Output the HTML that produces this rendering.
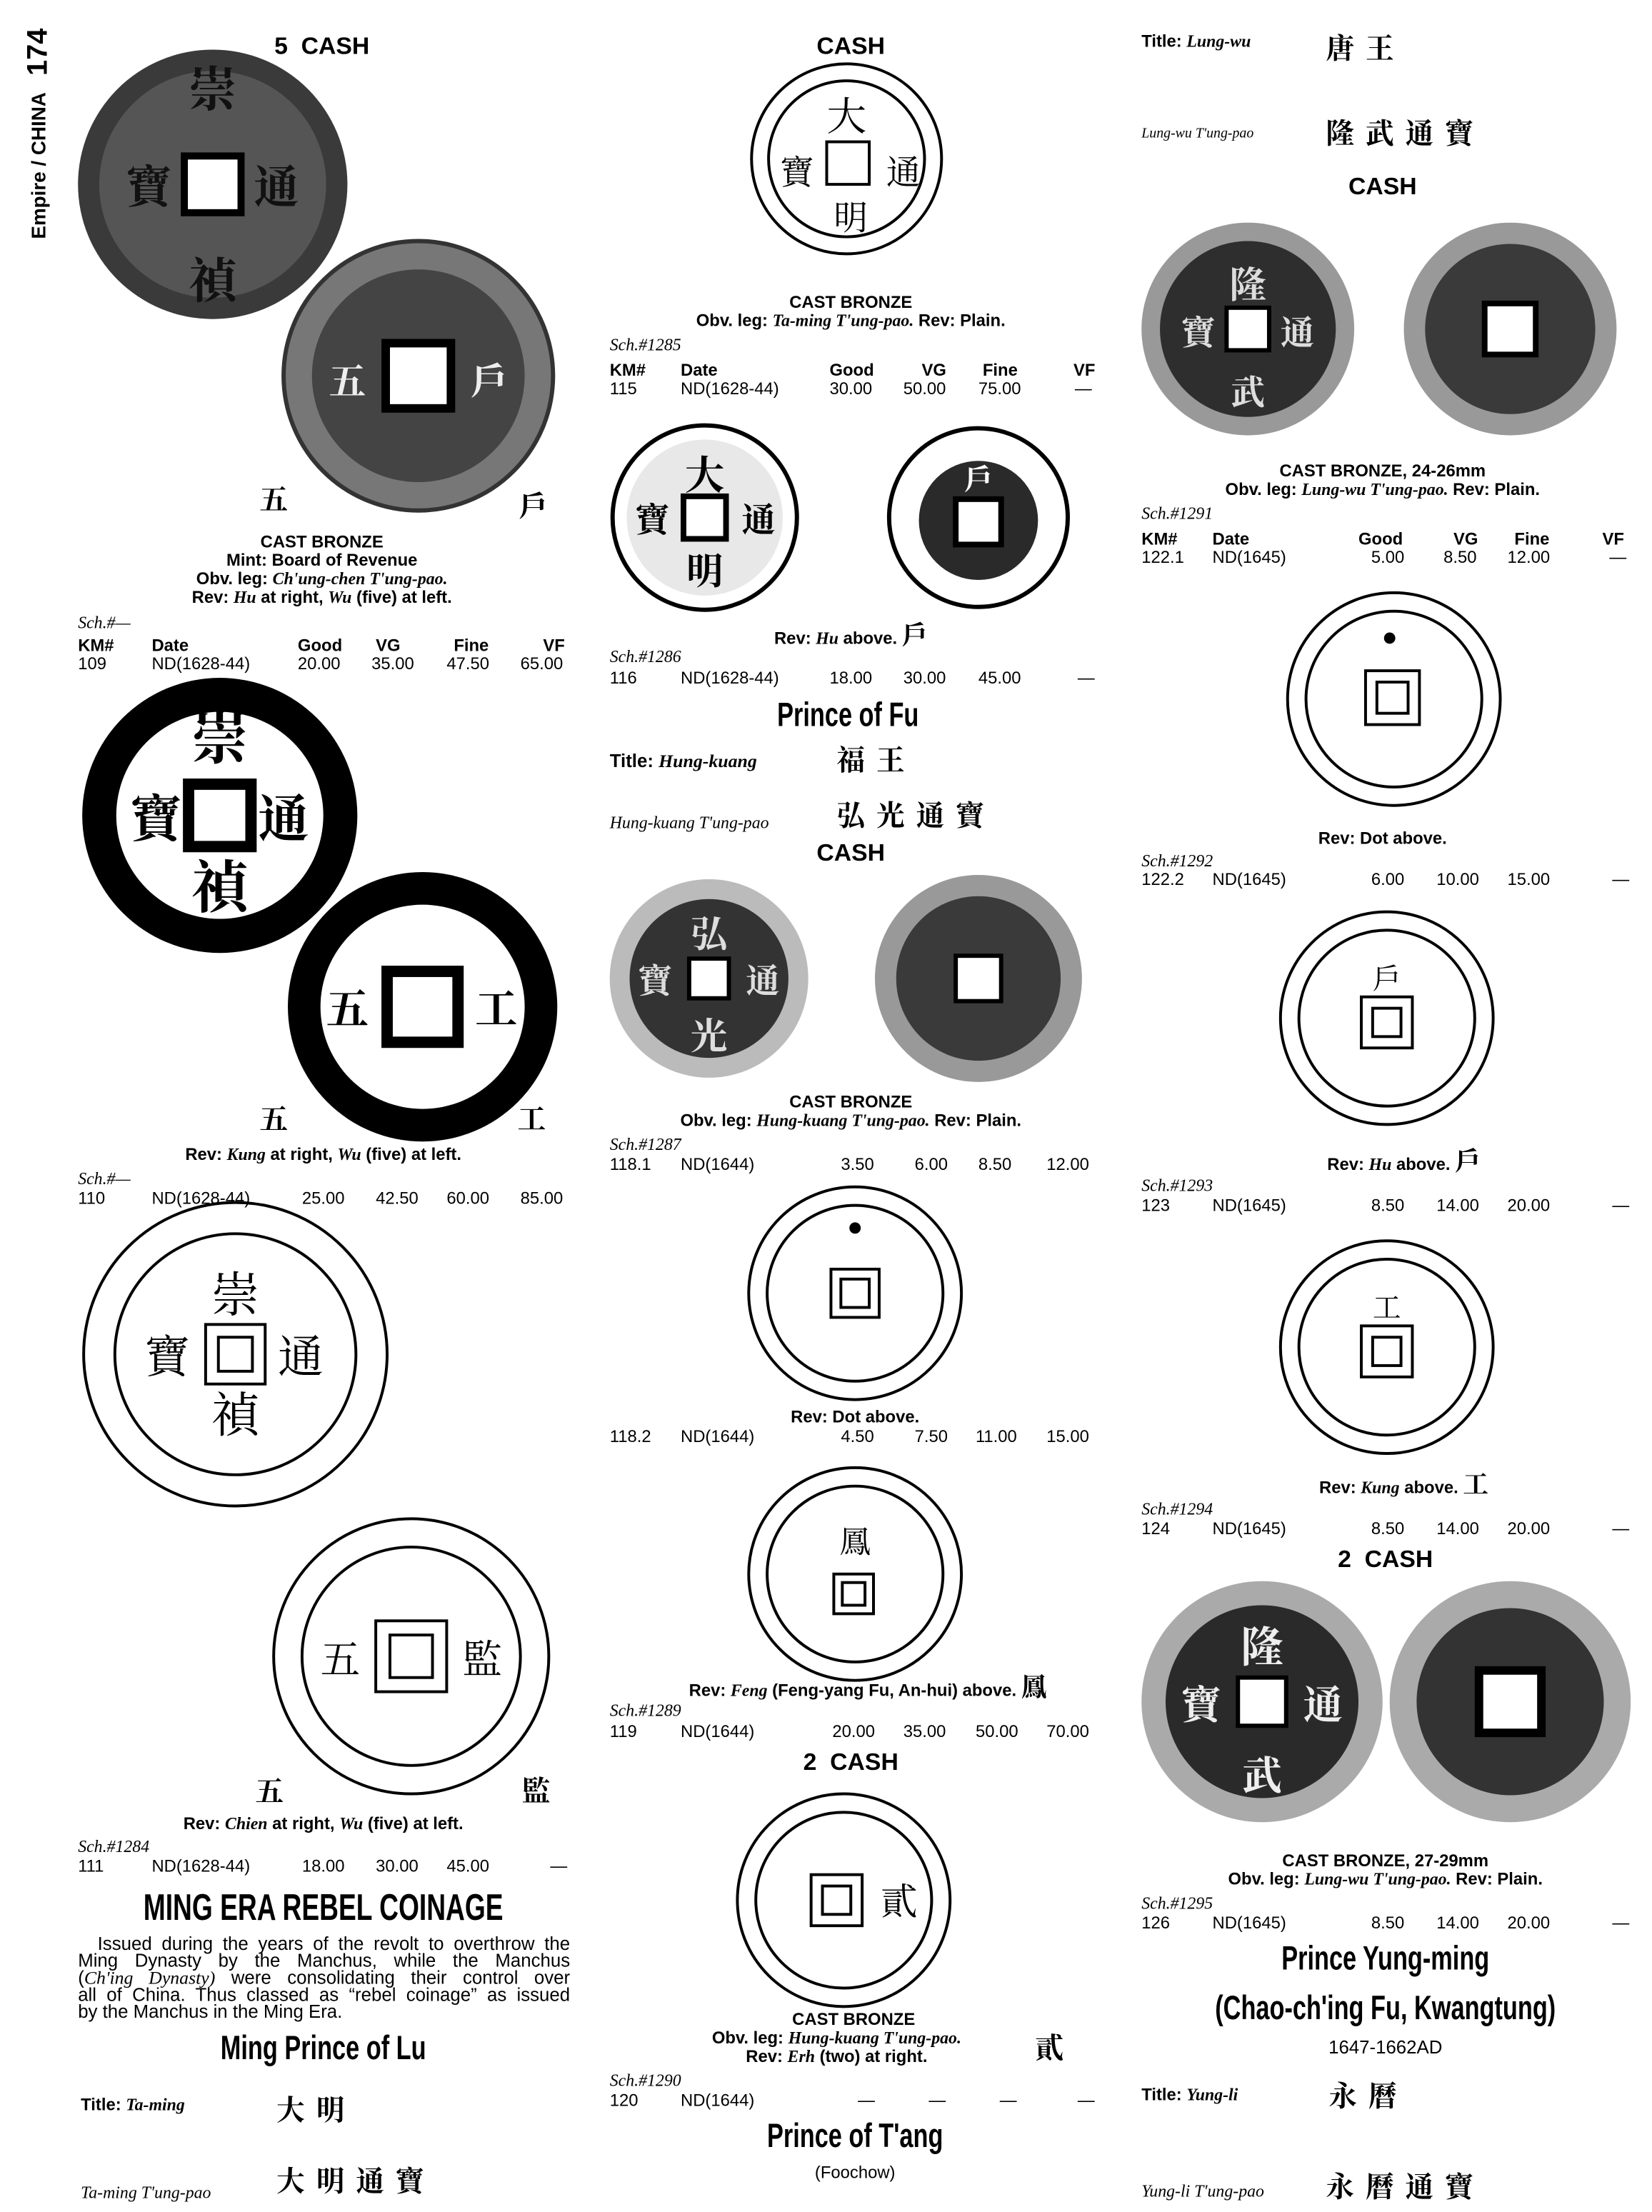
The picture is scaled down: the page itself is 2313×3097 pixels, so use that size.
<!DOCTYPE html>
<html><head><meta charset="utf-8"><style>
html,body{margin:0;padding:0;background:#fff;}
#w{position:relative;width:2313px;height:3097px;overflow:hidden;}
#p{position:absolute;left:0;top:0;width:1165px;height:1560px;transform:scale(1.9854);transform-origin:0 0;font-family:"Liberation Sans","Noto Sans CJK SC",sans-serif;color:#000;}
.t{position:absolute;white-space:nowrap;font-size:12px;line-height:13px;font-weight:bold;}
.c{transform:translateX(-50%);}
.i{font-family:"Liberation Serif",serif;font-style:italic;font-weight:normal;font-size:12px;}
.s{font-weight:normal;}
.h{font-family:"Liberation Sans",sans-serif;font-weight:bold;font-size:24px;line-height:26px;transform:translateX(-50%) scaleX(0.72);}
.k{position:absolute;font-family:"Noto Serif CJK SC","Noto Sans CJK SC",serif;font-weight:bold;font-size:20px;line-height:22px;letter-spacing:8px;white-space:nowrap;}
.pl{position:absolute;left:55px;width:347px;font-size:13px;line-height:12px;text-align:justify;text-align-last:justify;white-space:nowrap;}
svg{position:absolute;left:0;top:0;}
</style></head><body><div id="w"><div id="p">
<svg width="1165" height="1560" viewBox="0 0 1165 1560" font-family="Noto Serif CJK SC,serif" font-weight="bold">
<circle cx="150" cy="130" r="95" fill="#3a3a3a"/><circle cx="150" cy="130" r="80" fill="#555"/>
<rect x="130" y="110" width="40" height="40" fill="#fff" stroke="#000" stroke-width="5"/>
<text x="150" y="75" font-size="34" fill="#111" text-anchor="middle">崇</text><text x="150" y="210" font-size="34" fill="#111" text-anchor="middle">禎</text>
<text x="105" y="143" font-size="32" fill="#111" text-anchor="middle">寶</text><text x="195" y="143" font-size="32" fill="#111" text-anchor="middle">通</text>
<circle cx="295" cy="265" r="95" fill="#777" stroke="#333" stroke-width="3"/><circle cx="295" cy="265" r="75" fill="#444"/>
<rect x="272" y="242" width="46" height="46" fill="#fff" stroke="#000" stroke-width="6"/>
<text x="245" y="278" font-size="26" fill="#eee" text-anchor="middle">五</text><text x="345" y="278" font-size="26" fill="#eee" text-anchor="middle">戶</text>
<circle cx="155" cy="575" r="97" fill="#000"/><circle cx="155" cy="575" r="73" fill="#fff"/>
<rect x="133" y="553" width="44" height="44" fill="#fff" stroke="#000" stroke-width="8"/>
<text x="155" y="535" font-size="40" text-anchor="middle">崇</text><text x="155" y="640" font-size="40" text-anchor="middle">禎</text>
<text x="110" y="590" font-size="36" text-anchor="middle">寶</text><text x="200" y="590" font-size="36" text-anchor="middle">通</text>
<circle cx="298" cy="710" r="95" fill="#000"/><circle cx="298" cy="710" r="72" fill="#fff"/>
<rect x="273" y="685" width="50" height="50" fill="#fff" stroke="#000" stroke-width="8"/>
<text x="245" y="722" font-size="30" text-anchor="middle">五</text><text x="350" y="722" font-size="30" text-anchor="middle">工</text>
<circle cx="166" cy="955" r="107" fill="none" stroke="#000" stroke-width="2"/><circle cx="166" cy="955" r="85" fill="none" stroke="#000" stroke-width="2"/>
<rect x="145" y="934" width="42" height="42" fill="none" stroke="#000" stroke-width="2"/><rect x="154" y="943" width="24" height="24" fill="none" stroke="#000" stroke-width="2"/>
<text x="166" y="925" font-size="34" font-weight="normal" text-anchor="middle">崇</text><text x="166" y="1010" font-size="34" font-weight="normal" text-anchor="middle">禎</text>
<text x="118" y="968" font-size="32" font-weight="normal" text-anchor="middle">寶</text><text x="212" y="968" font-size="32" font-weight="normal" text-anchor="middle">通</text>
<circle cx="290" cy="1168" r="97" fill="none" stroke="#000" stroke-width="2"/><circle cx="290" cy="1168" r="77" fill="none" stroke="#000" stroke-width="2"/>
<rect x="265" y="1143" width="50" height="50" fill="none" stroke="#000" stroke-width="2"/><rect x="275" y="1153" width="30" height="30" fill="none" stroke="#000" stroke-width="2"/>
<text x="240" y="1180" font-size="28" font-weight="normal" text-anchor="middle">五</text><text x="340" y="1180" font-size="28" font-weight="normal" text-anchor="middle">監</text>
<circle cx="597" cy="112" r="67" fill="none" stroke="#000" stroke-width="2"/><circle cx="597" cy="112" r="55" fill="none" stroke="#000" stroke-width="2"/>
<rect x="583" y="100" width="30" height="30" fill="none" stroke="#000" stroke-width="2"/>
<text x="597" y="92" font-size="28" font-weight="normal" text-anchor="middle">大</text><text x="600" y="162" font-size="24" font-weight="normal" text-anchor="middle">明</text>
<text x="562" y="130" font-size="24" font-weight="normal" text-anchor="middle">寶</text><text x="637" y="130" font-size="24" font-weight="normal" text-anchor="middle">通</text>
<circle cx="497" cy="365" r="65" fill="#fff" stroke="#000" stroke-width="3"/><circle cx="497" cy="365" r="55" fill="#e8e8e8"/>
<rect x="482" y="350" width="30" height="30" fill="#fff" stroke="#000" stroke-width="4"/>
<text x="497" y="345" font-size="28" text-anchor="middle">大</text><text x="497" y="412" font-size="26" text-anchor="middle">明</text>
<text x="460" y="375" font-size="24" text-anchor="middle">寶</text><text x="535" y="375" font-size="24" text-anchor="middle">通</text>
<circle cx="690" cy="365" r="63" fill="#fff" stroke="#000" stroke-width="3"/><circle cx="690" cy="367" r="42" fill="#2a2a2a"/>
<rect x="674" y="352" width="32" height="32" fill="#fff" stroke="#000" stroke-width="4"/>
<text x="690" y="345" font-size="20" fill="#fff" text-anchor="middle">戶</text>
<circle cx="500" cy="690" r="70" fill="#bbb"/><circle cx="500" cy="690" r="56" fill="#333"/>
<rect x="486" y="676" width="28" height="28" fill="#fff" stroke="#000" stroke-width="3"/>
<text x="500" y="668" font-size="26" fill="#ddd" text-anchor="middle">弘</text><text x="500" y="740" font-size="26" fill="#ddd" text-anchor="middle">光</text>
<text x="462" y="700" font-size="24" fill="#ddd" text-anchor="middle">寶</text><text x="538" y="700" font-size="24" fill="#ddd" text-anchor="middle">通</text>
<circle cx="690" cy="690" r="73" fill="#999"/><circle cx="690" cy="690" r="58" fill="#3a3a3a"/>
<rect x="674" y="674" width="32" height="32" fill="#fff" stroke="#000" stroke-width="3"/>
<g fill="none" stroke="#000" stroke-width="2">
<circle cx="603" cy="912" r="75"/><circle cx="603" cy="912" r="62"/><rect x="586" y="895" width="34" height="34"/><rect x="593" y="902" width="20" height="20"/>
<circle cx="603" cy="1110" r="75"/><circle cx="603" cy="1110" r="62"/><rect x="588" y="1110" width="28" height="28"/><rect x="594" y="1116" width="16" height="16"/>
<circle cx="595" cy="1340" r="75"/><circle cx="595" cy="1340" r="62"/><rect x="572" y="1322" width="36" height="36"/><rect x="580" y="1330" width="20" height="20"/>
<circle cx="983" cy="493" r="75"/><circle cx="983" cy="493" r="62"/><rect x="963" y="473" width="38" height="38"/><rect x="971" y="481" width="22" height="22"/>
<circle cx="978" cy="718" r="75"/><circle cx="978" cy="718" r="62"/><rect x="960" y="703" width="36" height="36"/><rect x="968" y="711" width="20" height="20"/>
<circle cx="978" cy="950" r="75"/><circle cx="978" cy="950" r="62"/><rect x="960" y="935" width="36" height="36"/><rect x="968" y="943" width="20" height="20"/>
</g>
<circle cx="603" cy="866" r="4" fill="#000"/><circle cx="980" cy="450" r="4" fill="#000"/>
<text x="603" y="1095" font-size="22" font-weight="normal" text-anchor="middle">鳳</text>
<text x="634" y="1350" font-size="26" font-weight="normal" text-anchor="middle">貳</text>
<text x="978" y="697" font-size="20" font-weight="normal" text-anchor="middle">戶</text>
<text x="978" y="929" font-size="20" font-weight="normal" text-anchor="middle">工</text>
<circle cx="880" cy="232" r="75" fill="#999"/><circle cx="880" cy="232" r="62" fill="#2e2e2e"/>
<rect x="865" y="217" width="30" height="30" fill="#fff" stroke="#000" stroke-width="3"/>
<text x="880" y="210" font-size="26" fill="#ddd" text-anchor="middle">隆</text><text x="880" y="285" font-size="24" fill="#ddd" text-anchor="middle">武</text>
<text x="845" y="243" font-size="24" fill="#ddd" text-anchor="middle">寶</text><text x="915" y="243" font-size="24" fill="#ddd" text-anchor="middle">通</text>
<circle cx="1065" cy="232" r="75" fill="#999"/><circle cx="1065" cy="232" r="60" fill="#3a3a3a"/>
<rect x="1047" y="214" width="36" height="36" fill="#fff" stroke="#000" stroke-width="4"/>
<circle cx="890" cy="1200" r="85" fill="#aaa"/><circle cx="890" cy="1200" r="68" fill="#2a2a2a"/>
<rect x="873" y="1183" width="34" height="34" fill="#fff" stroke="#000" stroke-width="3"/>
<text x="890" y="1172" font-size="30" fill="#eee" text-anchor="middle">隆</text><text x="890" y="1262" font-size="28" fill="#eee" text-anchor="middle">武</text>
<text x="847" y="1212" font-size="28" fill="#eee" text-anchor="middle">寶</text><text x="933" y="1212" font-size="28" fill="#eee" text-anchor="middle">通</text>
<circle cx="1065" cy="1200" r="85" fill="#aaa"/><circle cx="1065" cy="1200" r="66" fill="#333"/>
<rect x="1043" y="1178" width="44" height="44" fill="#fff" stroke="#000" stroke-width="6"/>
</svg>

<div style="position:absolute;left:18px;top:20px;writing-mode:vertical-rl;transform:rotate(180deg);font-weight:bold;font-size:14px;line-height:18px;white-space:nowrap;">Empire / CHINA&nbsp;&nbsp;&nbsp;<span style="font-size:20px;">174</span></div>

<!-- LEFT -->
<div class="t c" style="left:227px;top:24px;font-size:17px;line-height:18px;">5 &nbsp;CASH</div>
<div class="k" style="left:183px;top:340px;">五</div><div class="k" style="left:366px;top:345px;">戶</div>
<div class="t c" style="left:227px;top:376px;">CAST BRONZE</div>
<div class="t c" style="left:227px;top:389px;">Mint: Board of Revenue</div>
<div class="t c" style="left:227px;top:402px;">Obv. leg: <i style="font-family:'Liberation Serif'">Ch'ung-chen T'ung-pao.</i></div>
<div class="t c" style="left:227px;top:415px;">Rev: <i style="font-family:'Liberation Serif'">Hu</i> at right, <i style="font-family:'Liberation Serif'">Wu</i> (five) at left.</div>
<div class="t i" style="left:55px;top:433px;">Sch.#—</div>
<div class="t" style="left:55px;top:449px;">KM#</div><div class="t" style="left:107px;top:449px;">Date</div><div class="t" style="left:210px;top:449px;">Good</div><div class="t" style="left:265px;top:449px;">VG</div><div class="t" style="left:320px;top:449px;">Fine</div><div class="t" style="left:383px;top:449px;">VF</div>
<div class="t s" style="left:55px;top:462px;">109</div><div class="t s" style="left:107px;top:462px;">ND(1628-44)</div><div class="t s" style="left:210px;top:462px;">20.00</div><div class="t s" style="left:262px;top:462px;">35.00</div><div class="t s" style="left:315px;top:462px;">47.50</div><div class="t s" style="left:367px;top:462px;">65.00</div>
<div class="k" style="left:183px;top:777px;">五</div><div class="k" style="left:365px;top:777px;">工</div>
<div class="t c" style="left:228px;top:808px;">Rev: <i style="font-family:'Liberation Serif'">Kung</i> at right, <i style="font-family:'Liberation Serif'">Wu</i> (five) at left.</div>
<div class="t i" style="left:55px;top:825px;">Sch.#—</div>
<div class="t s" style="left:55px;top:839px;">110</div><div class="t s" style="left:107px;top:839px;">ND(1628-44)</div><div class="t s" style="left:213px;top:839px;">25.00</div><div class="t s" style="left:265px;top:839px;">42.50</div><div class="t s" style="left:315px;top:839px;">60.00</div><div class="t s" style="left:367px;top:839px;">85.00</div>
<div class="k" style="left:180px;top:1251px;">五</div><div class="k" style="left:368px;top:1251px;">監</div>
<div class="t c" style="left:228px;top:1280px;">Rev: <i style="font-family:'Liberation Serif'">Chien</i> at right, <i style="font-family:'Liberation Serif'">Wu</i> (five) at left.</div>
<div class="t i" style="left:55px;top:1296px;">Sch.#1284</div>
<div class="t s" style="left:55px;top:1310px;">111</div><div class="t s" style="left:107px;top:1310px;">ND(1628-44)</div><div class="t s" style="left:213px;top:1310px;">18.00</div><div class="t s" style="left:265px;top:1310px;">30.00</div><div class="t s" style="left:315px;top:1310px;">45.00</div><div class="t s" style="left:388px;top:1310px;">—</div>
<div class="t h" style="left:228px;top:1332px;font-size:26px;">MING ERA REBEL COINAGE</div>
<div class="pl" style="top:1365px;">&nbsp;&nbsp;Issued during the years of the revolt to overthrow the</div>
<div class="pl" style="top:1377px;">Ming Dynasty by the Manchus, while the Manchus</div>
<div class="pl" style="top:1389px;">(<i style="font-family:'Liberation Serif'">Ch'ing Dynasty)</i> were consolidating their control over</div>
<div class="pl" style="top:1401px;">all of China. Thus classed as “rebel coinage” as issued</div>
<div class="pl" style="top:1413px;text-align-last:left;">by the Manchus in the Ming Era.</div>
<div class="t h" style="left:228px;top:1432px;">Ming Prince of Lu</div>
<div class="t" style="left:57px;top:1478px;">Title: <i style="font-family:'Liberation Serif'">Ta-ming</i></div>
<div class="k" style="left:195px;top:1476px;">大明</div>
<div class="t i" style="left:57px;top:1540px;">Ta-ming T'ung-pao</div>
<div class="k" style="left:195px;top:1526px;">大明通寶</div>

<!-- MIDDLE -->
<div class="t c" style="left:600px;top:24px;font-size:17px;line-height:18px;">CASH</div>
<div class="t c" style="left:600px;top:207px;">CAST BRONZE</div>
<div class="t c" style="left:600px;top:220px;">Obv. leg: <i style="font-family:'Liberation Serif'">Ta-ming T'ung-pao.</i> Rev: Plain.</div>
<div class="t i" style="left:430px;top:237px;">Sch.#1285</div>
<div class="t" style="left:430px;top:255px;">KM#</div><div class="t" style="left:480px;top:255px;">Date</div><div class="t" style="left:585px;top:255px;">Good</div><div class="t" style="left:650px;top:255px;">VG</div><div class="t" style="left:693px;top:255px;">Fine</div><div class="t" style="left:757px;top:255px;">VF</div>
<div class="t s" style="left:430px;top:268px;">115</div><div class="t s" style="left:480px;top:268px;">ND(1628-44)</div><div class="t s" style="left:585px;top:268px;">30.00</div><div class="t s" style="left:637px;top:268px;">50.00</div><div class="t s" style="left:690px;top:268px;">75.00</div><div class="t s" style="left:758px;top:268px;">—</div>
<div class="t c" style="left:600px;top:441px;">Rev: <i style="font-family:'Liberation Serif'">Hu</i> above. <span style="font-family:'Noto Serif CJK SC';font-size:18px;">戶</span></div>
<div class="t i" style="left:430px;top:457px;">Sch.#1286</div>
<div class="t s" style="left:430px;top:472px;">116</div><div class="t s" style="left:480px;top:472px;">ND(1628-44)</div><div class="t s" style="left:585px;top:472px;">18.00</div><div class="t s" style="left:637px;top:472px;">30.00</div><div class="t s" style="left:690px;top:472px;">45.00</div><div class="t s" style="left:760px;top:472px;">—</div>
<div class="t h" style="left:598px;top:492px;">Prince of Fu</div>
<div class="t" style="left:430px;top:530px;font-size:13px;">Title: <i style="font-family:'Liberation Serif'">Hung-kuang</i></div>
<div class="k" style="left:590px;top:524px;">福王</div>
<div class="t i" style="left:430px;top:574px;">Hung-kuang T'ung-pao</div>
<div class="k" style="left:590px;top:563px;">弘光通寶</div>
<div class="t c" style="left:600px;top:593px;font-size:17px;line-height:18px;">CASH</div>
<div class="t c" style="left:600px;top:771px;">CAST BRONZE</div>
<div class="t c" style="left:600px;top:784px;">Obv. leg: <i style="font-family:'Liberation Serif'">Hung-kuang T'ung-pao.</i> Rev: Plain.</div>
<div class="t i" style="left:430px;top:801px;">Sch.#1287</div>
<div class="t s" style="left:430px;top:815px;">118.1</div><div class="t s" style="left:480px;top:815px;">ND(1644)</div><div class="t s" style="left:593px;top:815px;">3.50</div><div class="t s" style="left:645px;top:815px;">6.00</div><div class="t s" style="left:690px;top:815px;">8.50</div><div class="t s" style="left:738px;top:815px;">12.00</div>
<div class="t c" style="left:603px;top:993px;">Rev: Dot above.</div>
<div class="t s" style="left:430px;top:1007px;">118.2</div><div class="t s" style="left:480px;top:1007px;">ND(1644)</div><div class="t s" style="left:593px;top:1007px;">4.50</div><div class="t s" style="left:645px;top:1007px;">7.50</div><div class="t s" style="left:688px;top:1007px;">11.00</div><div class="t s" style="left:738px;top:1007px;">15.00</div>
<div class="t c" style="left:612px;top:1183px;">Rev: <i style="font-family:'Liberation Serif'">Feng</i> (Feng-yang Fu, An-hui) above. <span style="font-family:'Noto Serif CJK SC';font-size:18px;">鳳</span></div>
<div class="t i" style="left:430px;top:1200px;">Sch.#1289</div>
<div class="t s" style="left:430px;top:1215px;">119</div><div class="t s" style="left:480px;top:1215px;">ND(1644)</div><div class="t s" style="left:587px;top:1215px;">20.00</div><div class="t s" style="left:637px;top:1215px;">35.00</div><div class="t s" style="left:688px;top:1215px;">50.00</div><div class="t s" style="left:738px;top:1215px;">70.00</div>
<div class="t c" style="left:600px;top:1234px;font-size:17px;line-height:18px;">2 &nbsp;CASH</div>
<div class="t c" style="left:602px;top:1418px;">CAST BRONZE</div>
<div class="t c" style="left:590px;top:1431px;">Obv. leg: <i style="font-family:'Liberation Serif'">Hung-kuang T'ung-pao.</i></div>
<div class="t c" style="left:590px;top:1444px;">Rev: <i style="font-family:'Liberation Serif'">Erh</i> (two) at right.</div>
<div class="k" style="left:730px;top:1432px;">貳</div>
<div class="t i" style="left:430px;top:1461px;">Sch.#1290</div>
<div class="t s" style="left:430px;top:1475px;">120</div><div class="t s" style="left:480px;top:1475px;">ND(1644)</div><div class="t s" style="left:605px;top:1475px;">—</div><div class="t s" style="left:655px;top:1475px;">—</div><div class="t s" style="left:705px;top:1475px;">—</div><div class="t s" style="left:760px;top:1475px;">—</div>
<div class="t h" style="left:603px;top:1494px;">Prince of T'ang</div>
<div class="t c s" style="left:603px;top:1526px;">(Foochow)</div>

<!-- RIGHT -->
<div class="t" style="left:805px;top:23px;">Title: <i style="font-family:'Liberation Serif'">Lung-wu</i></div>
<div class="k" style="left:935px;top:22px;">唐王</div>
<div class="t i" style="left:805px;top:88px;font-size:10px;">Lung-wu T'ung-pao</div>
<div class="k" style="left:935px;top:82px;">隆武通寶</div>
<div class="t c" style="left:975px;top:123px;font-size:17px;line-height:18px;">CASH</div>
<div class="t c" style="left:975px;top:326px;">CAST BRONZE, 24-26mm</div>
<div class="t c" style="left:975px;top:339px;">Obv. leg: <i style="font-family:'Liberation Serif'">Lung-wu T'ung-pao.</i> Rev: Plain.</div>
<div class="t i" style="left:805px;top:356px;">Sch.#1291</div>
<div class="t" style="left:805px;top:374px;">KM#</div><div class="t" style="left:855px;top:374px;">Date</div><div class="t" style="left:958px;top:374px;">Good</div><div class="t" style="left:1025px;top:374px;">VG</div><div class="t" style="left:1068px;top:374px;">Fine</div><div class="t" style="left:1130px;top:374px;">VF</div>
<div class="t s" style="left:805px;top:387px;">122.1</div><div class="t s" style="left:855px;top:387px;">ND(1645)</div><div class="t s" style="left:967px;top:387px;">5.00</div><div class="t s" style="left:1018px;top:387px;">8.50</div><div class="t s" style="left:1063px;top:387px;">12.00</div><div class="t s" style="left:1135px;top:387px;">—</div>
<div class="t c" style="left:975px;top:585px;">Rev: Dot above.</div>
<div class="t i" style="left:805px;top:601px;">Sch.#1292</div>
<div class="t s" style="left:805px;top:614px;">122.2</div><div class="t s" style="left:855px;top:614px;">ND(1645)</div><div class="t s" style="left:967px;top:614px;">6.00</div><div class="t s" style="left:1013px;top:614px;">10.00</div><div class="t s" style="left:1063px;top:614px;">15.00</div><div class="t s" style="left:1137px;top:614px;">—</div>
<div class="t c" style="left:990px;top:812px;">Rev: <i style="font-family:'Liberation Serif'">Hu</i> above. <span style="font-family:'Noto Serif CJK SC';font-size:18px;">戶</span></div>
<div class="t i" style="left:805px;top:830px;">Sch.#1293</div>
<div class="t s" style="left:805px;top:844px;">123</div><div class="t s" style="left:855px;top:844px;">ND(1645)</div><div class="t s" style="left:967px;top:844px;">8.50</div><div class="t s" style="left:1013px;top:844px;">14.00</div><div class="t s" style="left:1063px;top:844px;">20.00</div><div class="t s" style="left:1137px;top:844px;">—</div>
<div class="t c" style="left:990px;top:1040px;">Rev: <i style="font-family:'Liberation Serif'">Kung</i> above. <span style="font-family:'Noto Serif CJK SC';font-size:18px;">工</span></div>
<div class="t i" style="left:805px;top:1058px;">Sch.#1294</div>
<div class="t s" style="left:805px;top:1072px;">124</div><div class="t s" style="left:855px;top:1072px;">ND(1645)</div><div class="t s" style="left:967px;top:1072px;">8.50</div><div class="t s" style="left:1013px;top:1072px;">14.00</div><div class="t s" style="left:1063px;top:1072px;">20.00</div><div class="t s" style="left:1137px;top:1072px;">—</div>
<div class="t c" style="left:977px;top:1091px;font-size:17px;line-height:18px;">2 &nbsp;CASH</div>
<div class="t c" style="left:977px;top:1306px;">CAST BRONZE, 27-29mm</div>
<div class="t c" style="left:977px;top:1319px;">Obv. leg: <i style="font-family:'Liberation Serif'">Lung-wu T'ung-pao.</i> Rev: Plain.</div>
<div class="t i" style="left:805px;top:1336px;">Sch.#1295</div>
<div class="t s" style="left:805px;top:1350px;">126</div><div class="t s" style="left:855px;top:1350px;">ND(1645)</div><div class="t s" style="left:967px;top:1350px;">8.50</div><div class="t s" style="left:1013px;top:1350px;">14.00</div><div class="t s" style="left:1063px;top:1350px;">20.00</div><div class="t s" style="left:1137px;top:1350px;">—</div>
<div class="t h" style="left:977px;top:1369px;">Prince Yung-ming</div>
<div class="t h" style="left:977px;top:1404px;">(Chao-ch'ing Fu, Kwangtung)</div>
<div class="t c s" style="left:977px;top:1437px;font-size:13px;">1647-1662AD</div>
<div class="t" style="left:805px;top:1471px;">Title: <i style="font-family:'Liberation Serif'">Yung-li</i></div>
<div class="k" style="left:937px;top:1466px;">永曆</div>
<div class="t i" style="left:805px;top:1539px;">Yung-li T'ung-pao</div>
<div class="k" style="left:935px;top:1530px;">永曆通寶</div>
</div></div></body></html>
